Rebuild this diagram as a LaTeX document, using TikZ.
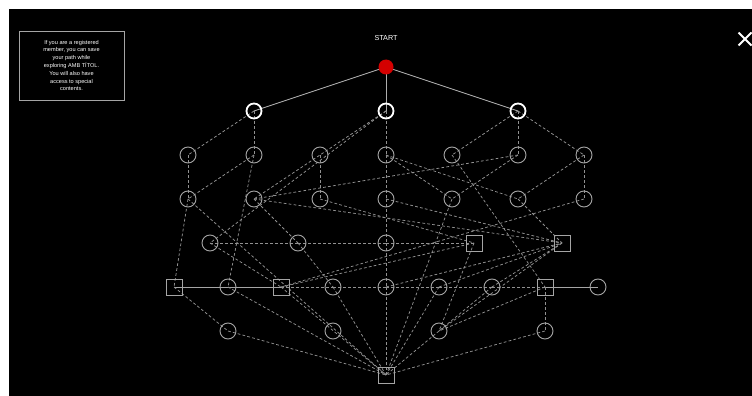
\documentclass[tikz,border=0pt]{standalone}
\usepackage{fontspec}
\setmainfont{Liberation Sans}
\pgfdeclarelayer{back}
\pgfdeclarelayer{edges}
\pgfsetlayers{back,edges,main}
\definecolor{lgray}{RGB}{165,165,165}
\definecolor{dgray}{RGB}{145,145,145}
\definecolor{startred}{RGB}{212,0,0}
\tikzset{
  cnode/.style={circle,draw=lgray,line width=0.9pt,minimum size=16pt,inner sep=0pt},
  bnode/.style={circle,draw=white,line width=1.8pt,minimum size=15pt,inner sep=0pt},
  snode/.style={rectangle,draw=lgray,line width=0.9pt,minimum size=16pt,inner sep=0pt},
  startnode/.style={circle,fill=startred,minimum size=15pt,inner sep=0pt},
  dline/.style={draw=dgray,line width=0.75pt,dash pattern=on 2.8pt off 2.2pt},
  sline/.style={draw=lgray!90!white,line width=0.9pt},
  eline/.style={draw=lgray,line width=0.75pt},
}
\begin{document}
\begin{tikzpicture}[x=1pt,y=-1pt]
\useasboundingbox (0,0) rectangle (752,396);
\begin{pgfonlayer}{back}
\fill[white] (0,0) rectangle (752,396);
\fill[black] (8.5,9) rectangle (752,396);
\end{pgfonlayer}
% info box
\node[draw=lgray,line width=0.9pt,minimum width=105pt,minimum height=69pt,inner sep=0pt,
  align=center,text=white,font=\fontsize{5.6}{7.8}\selectfont] (info) at (71.5,65.5)
  {If you are a registered\\member, you can save\\your path while\\exploring AMB TÍTOL.\\You will also have\\access to special\\contents.};
\node[text=white,font=\fontsize{7.2}{8}\selectfont] (starttxt) at (386,38) {START};
% close X
\coordinate (x1) at (738.5,32.5); \coordinate (x2) at (751.5,45.5);
\coordinate (x3) at (738.5,45.5); \coordinate (x4) at (751.5,32.5);
\draw[white,line width=2pt] (x1) -- (x2) (x3) -- (x4);
% nodes
\node[startnode] (S) at (386,67) {};
\node[bnode] (A1) at (254,111) {};
\node[bnode] (A2) at (386,111) {};
\node[bnode] (A3) at (518,111) {};
\foreach \i/\x in {1/188,2/254,3/320,4/386,5/452,6/518,7/584}{
  \node[cnode] (B\i) at (\x,155) {};
  \node[cnode] (C\i) at (\x,199) {};
}
\node[cnode] (D1) at (210,243) {};
\node[cnode] (D2) at (298,243) {};
\node[cnode] (D3) at (386,243) {};
\node[snode] (D4) at (474,243) {};
\node[snode] (D5) at (562,243) {};
\node[snode] (E1) at (174,287) {};
\node[cnode] (E2) at (228,287) {};
\node[snode] (E3) at (281,287) {};
\node[cnode] (E4) at (333,287) {};
\node[cnode] (E5) at (386,287) {};
\node[cnode] (E6) at (439,287) {};
\node[cnode] (E7) at (492,287) {};
\node[snode] (E8) at (545,287) {};
\node[cnode] (E9) at (598,287) {};
\node[cnode] (F1) at (228,331) {};
\node[cnode] (F2) at (333,331) {};
\node[cnode] (F3) at (439,331) {};
\node[cnode] (F4) at (545,331) {};
\node[snode] (G) at (386,375) {};
% edges
\begin{pgfonlayer}{edges}
\foreach \a/\b in {S/A1,S/A2,S/A3}{\draw[sline] (\a.center) -- (\b.center);}
\foreach \a/\b in {E8/E9,E1/E2,E2/E3}{\draw[eline] (\a.center) -- (\b.center);}
\foreach \a/\b in {A1/B1,A1/B2,A2/B4,A2/C2,A2/D1,A3/B5,A3/B6,A3/B7,
  B1/C1,B2/C1,B2/E2,B3/C3,B4/C4,B4/C5,B4/C6,B5/E8,B6/C5,B7/C6,B7/C7,
  C1/E1,C1/G,C2/B6,C2/D2,C2/D5,C3/D4,C4/D3,C4/D5,C5/G,C6/D5,C7/E3,
  D1/D2,D2/D3,D3/D4,D1/E3,D2/E4,D3/E5,E3/D4,E5/D5,D5/E7,D5/F3,D4/F3,E6/D5,
  E3/E4,E4/E5,E5/E6,E6/E7,E7/E8,
  E1/F1,E8/F4,E8/F3,E7/F3,
  F1/G,E2/G,E3/G,E4/G,E5/G,E6/G,F3/G,F4/G}{
  \draw[dline] (\a.center) -- (\b.center);
}
\end{pgfonlayer}
\end{tikzpicture}
\end{document}
